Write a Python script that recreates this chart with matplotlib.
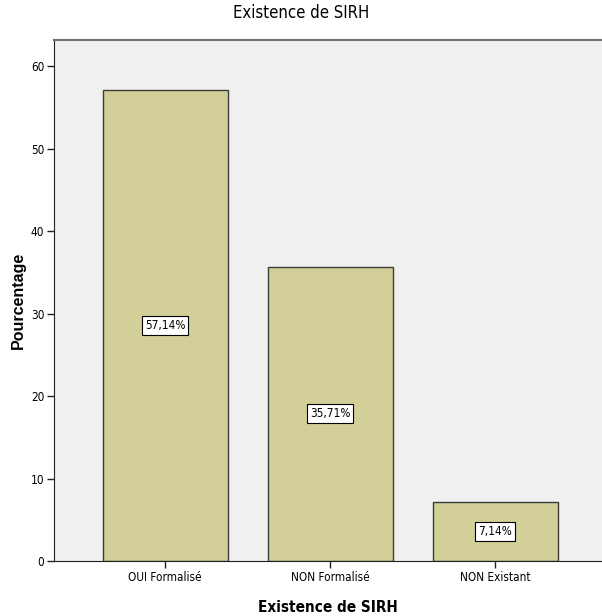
import matplotlib.pyplot as plt
from matplotlib import font_manager

categories = ['OUI Formalisé', 'NON Formalisé', 'NON Existant']
pourcentages = [57.14, 35.71, 7.14]
yticks = [0, 10, 20, 30, 40, 50, 60]

# police condensée si disponible
condensed = [f for f in font_manager.fontManager.ttflist
             if f.name == 'DejaVu Sans' and f.stretch == 'condensed']
etroit = dict(family='DejaVu Sans', stretch='condensed') if condensed else dict(family='Liberation Sans')

fig = plt.figure(figsize=(6.02, 6.16), dpi=100)
ax = fig.add_axes([54 / 602, 1 - 561 / 616, 1 - 54 / 602, (561 - 40) / 616])
ax.set_facecolor('#f0f0f0')

x = list(range(len(categories)))
ax.bar(x, pourcentages, width=0.758, color='#d3cf98', edgecolor='#3c3c3c', linewidth=1.0, zorder=2)

for xi, v in zip(x, pourcentages):
    ax.text(xi, v / 2, f'{v:.2f}%'.replace('.', ','), ha='center', va='center',
            fontsize=8.5, zorder=3, **etroit,
            bbox=dict(boxstyle='square,pad=0.25', fc='white', ec='black', lw=0.8))

ax.set_xlim(-0.673, 2.648)
ax.set_ylim(0, 63.2)
ax.set_yticks(yticks)
ax.set_xticks(x)
ax.set_xticklabels(categories, fontsize=8.5, **etroit)
ax.set_yticklabels([str(t) for t in yticks], fontsize=8.5, **etroit)
ax.tick_params(axis='both', length=5, width=1, color='#202020', pad=2)

ax.spines['right'].set_visible(False)
ax.spines['top'].set_color('#707070')
ax.spines['top'].set_linewidth(1.5)
ax.spines['left'].set_color('#202020')
ax.spines['bottom'].set_color('#202020')

fig.text(0.5, 1 - 13 / 616, 'Existence de SIRH', ha='center', va='center',
         fontsize=12, **etroit)
ax.set_xlabel('Existence de SIRH', fontsize=11, fontweight='bold', va='center', **etroit)
ax.xaxis.set_label_coords(0.5, -47 / 521)
ax.set_ylabel('Pourcentage', family='Liberation Sans', fontsize=11.5, fontweight='bold', va='center')
ax.yaxis.set_label_coords(-36 / 548, 0.5)

fig.savefig('out.png', dpi=100)
